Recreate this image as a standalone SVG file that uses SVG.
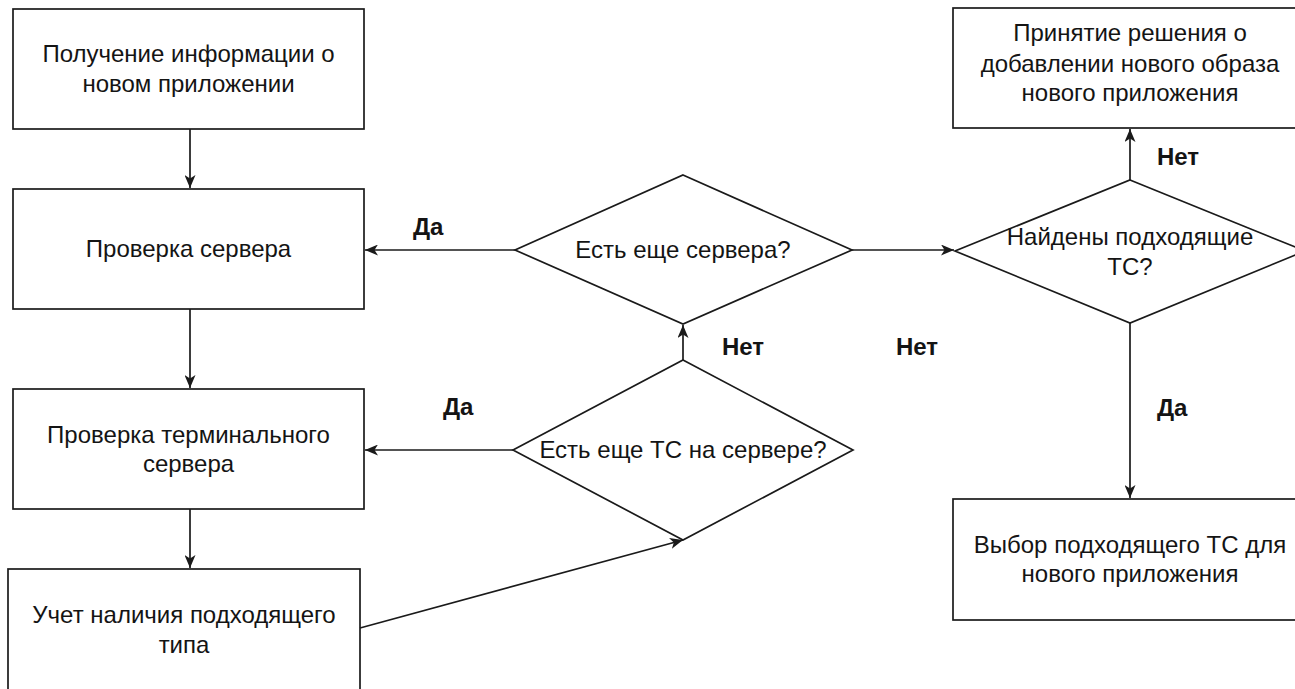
<svg xmlns="http://www.w3.org/2000/svg" width="1295" height="689" viewBox="0 0 1295 689">
<style>
.node rect, .node polygon { fill: #ffffff; stroke: #1a1a1a; stroke-width: 1.7; }
.t { font-family: "Liberation Sans", Arial, sans-serif; font-size: 24px; fill: #141414; text-anchor: middle; }
.lbl { font-family: "Liberation Sans", Arial, sans-serif; font-size: 24px; font-weight: bold; fill: #141414; }
.edge { fill: none; stroke: #1a1a1a; stroke-width: 1.7; }
</style>
<defs>
<marker id="arr" viewBox="0 0 13 11" refX="13" refY="5.5" markerWidth="13" markerHeight="11" markerUnits="userSpaceOnUse" orient="auto">
<path d="M0,0 L13,5.5 L0,11 L3.5,5.5 Z" fill="#1a1a1a"/>
</marker>
</defs>
<rect width="1295" height="689" fill="#ffffff"/>

<g id="n1" class="node">
<rect x="13" y="9" width="351" height="120"/>
<text class="t" x="188.5" y="62">Получение информации о</text>
<text class="t" x="188.5" y="92">новом приложении</text>
</g>
<g id="n2" class="node">
<rect x="13" y="189" width="351" height="120"/>
<text class="t" x="188.5" y="257">Проверка сервера</text>
</g>
<g id="n3" class="node">
<rect x="13" y="389" width="351" height="120"/>
<text class="t" x="188.5" y="443">Проверка терминального</text>
<text class="t" x="188.5" y="472">сервера</text>
</g>
<g id="n4" class="node">
<rect x="8" y="569" width="352" height="122"/>
<text class="t" x="184" y="623">Учет наличия подходящего</text>
<text class="t" x="184" y="653">типа</text>
</g>
<g id="d1" class="node">
<polygon points="683,175 852,250 683,324 515,250"/>
<text class="t" x="683" y="258">Есть еще сервера?</text>
</g>
<g id="d2" class="node">
<polygon points="683,360 853,450 683,540 513,450"/>
<text class="t" x="683" y="458">Есть еще ТС на сервере?</text>
</g>
<g id="d3" class="node">
<polygon points="1130,180 1305,251 1130,323 955,251"/>
<text class="t" x="1130" y="245">Найдены подходящие</text>
<text class="t" x="1130" y="275">ТС?</text>
</g>
<g id="n5" class="node">
<rect x="953" y="8" width="354" height="120"/>
<text class="t" x="1130" y="41">Принятие решения о</text>
<text class="t" x="1130" y="72">добавлении нового образа</text>
<text class="t" x="1130" y="101">нового приложения</text>
</g>
<g id="n6" class="node">
<rect x="953" y="499" width="354" height="121"/>
<text class="t" x="1130" y="553">Выбор подходящего ТС для</text>
<text class="t" x="1130" y="582">нового приложения</text>
</g>

<g id="connectors">
<line class="edge" x1="190" y1="129" x2="190" y2="188" marker-end="url(#arr)"/>
<line class="edge" x1="190" y1="309" x2="190" y2="388" marker-end="url(#arr)"/>
<line class="edge" x1="190" y1="509" x2="190" y2="568" marker-end="url(#arr)"/>
<line class="edge" x1="515" y1="250" x2="365" y2="250" marker-end="url(#arr)"/>
<line class="edge" x1="513" y1="450" x2="365" y2="450" marker-end="url(#arr)"/>
<line class="edge" x1="683" y1="360" x2="683" y2="325" marker-end="url(#arr)"/>
<line class="edge" x1="360" y1="628" x2="683" y2="540" marker-end="url(#arr)"/>
<line class="edge" x1="852" y1="250" x2="954" y2="250" marker-end="url(#arr)"/>
<line class="edge" x1="1130" y1="180" x2="1130" y2="129" marker-end="url(#arr)"/>
<line class="edge" x1="1130" y1="323" x2="1130" y2="498" marker-end="url(#arr)"/>
<text class="lbl" x="413" y="235">Да</text>
<text class="lbl" x="443" y="415">Да</text>
<text class="lbl" x="722" y="355">Нет</text>
<text class="lbl" x="896" y="355">Нет</text>
<text class="lbl" x="1157" y="165">Нет</text>
<text class="lbl" x="1157" y="416">Да</text>
</g>
</svg>
